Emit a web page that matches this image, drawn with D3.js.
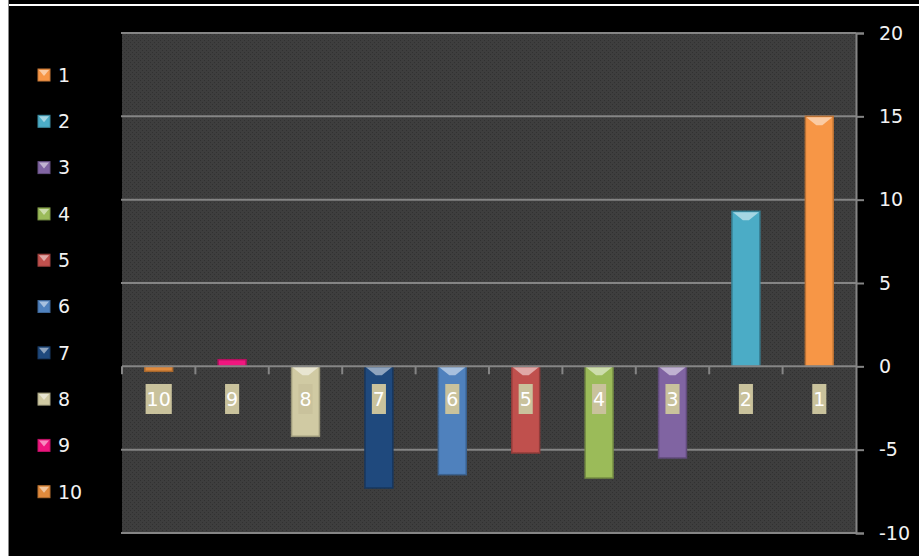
<!DOCTYPE html>
<html>
<head>
<meta charset="utf-8">
<script src="https://cdn.jsdelivr.net/npm/d3@7"></script>
<style>
  html, body { margin: 0; padding: 0; background: #000; }
  svg { display: block; }
  text { font-family: "DejaVu Sans", "Noto Sans", sans-serif; }
</style>
</head>
<body>
<div id="chart"></div>
<script>
const categories = ["1", "2", "3", "4", "5", "6", "7", "8", "9", "10"];
const values = [15, 9.3, -5.5, -6.7, -5.2, -6.5, -7.3, -4.2, 0.4, -0.3];
const colors = ["#f79646", "#4bacc6", "#8064a2", "#9bbb59", "#c0504d",
                "#4f81bd", "#1f497d", "#d0caa3", "#f0167f", "#e08a3c"];
const yTicks = [-10, -5, 0, 5, 10, 15, 20];

const width = 919, height = 556;
const plot = {left: 122, right: 856, top: 33, bottom: 533};

const svg = d3.select("#chart").append("svg")
    .attr("width", width)
    .attr("height", height);

const defs = svg.append("defs");

// dotted texture of the plot area
const pat = defs.append("pattern")
    .attr("id", "tex")
    .attr("width", 4).attr("height", 4)
    .attr("patternUnits", "userSpaceOnUse");
pat.append("rect").attr("width", 4).attr("height", 4).attr("fill", "#3e3e3e");
pat.append("rect").attr("x", 0).attr("y", 0).attr("width", 1).attr("height", 1).attr("fill", "#313131");
pat.append("rect").attr("x", 2).attr("y", 2).attr("width", 1).attr("height", 1).attr("fill", "#313131");

// frame
svg.append("rect").attr("width", width).attr("height", height).attr("fill", "#000");
svg.append("rect").attr("x", 0).attr("y", 0).attr("width", 8).attr("height", height).attr("fill", "#fff");
svg.append("rect").attr("x", 8).attr("y", 0).attr("width", 1).attr("height", height).attr("fill", "#888");
svg.append("rect").attr("x", 9).attr("y", 4).attr("width", width - 9).attr("height", 2).attr("fill", "#fff");

const x = d3.scaleBand()
    .domain(categories.slice().reverse())
    .range([plot.left, plot.right])
    .paddingInner(0.62)
    .paddingOuter(0.31);

const y = d3.scaleLinear()
    .domain([-10, 20])
    .range([plot.bottom, plot.top]);

// plot background
svg.append("rect")
    .attr("x", plot.left).attr("y", plot.top)
    .attr("width", plot.right - plot.left).attr("height", plot.bottom - plot.top)
    .attr("fill", "url(#tex)");

// gridlines
svg.append("g")
  .selectAll("line")
  .data(yTicks.filter(d => d !== 0))
  .join("line")
    .attr("x1", plot.left - 1).attr("x2", plot.right)
    .attr("y1", d => y(d)).attr("y2", d => y(d))
    .attr("stroke", "#858585")
    .attr("stroke-width", 2);

// right value axis
const yAxis = d3.axisRight(y)
    .tickValues(yTicks)
    .tickFormat(d => String(d))
    .tickSize(8)
    .tickPadding(15);

const ga = svg.append("g")
    .attr("transform", `translate(${plot.right},0)`)
    .call(yAxis);
ga.select(".domain").attr("stroke", "#858585").attr("stroke-width", 2);
ga.selectAll(".tick line").attr("stroke", "#858585").attr("stroke-width", 2);
ga.selectAll(".tick text")
    .attr("fill", "#f2f2f2")
    .attr("font-size", 19)
    .style("font-family", "'DejaVu Sans', sans-serif");

// bars
const mix = (c, k) => d3.interpolateRgb(c, k > 0 ? "#fff" : "#000")(Math.abs(k));
const bw = x.bandwidth();

const bars = svg.append("g")
  .selectAll("g")
  .data(categories.map((c, i) => ({cat: c, v: values[i], color: colors[i]})))
  .join("g")
    .attr("transform", d => `translate(${x(d.cat)},${y(Math.max(0, d.v))})`);

bars.append("rect")
    .attr("width", bw)
    .attr("height", d => Math.max(2, Math.abs(y(d.v) - y(0))))
    .attr("fill", d => d.color)
    .attr("stroke", d => mix(d.color, -0.25))
    .attr("stroke-width", 1.5);

// bevel highlight at the top of each bar
bars.filter(d => Math.abs(y(d.v) - y(0)) > 8)
  .append("path")
    .attr("d", `M1,1 L${bw - 1},1 L${bw / 2 + 3},9 L${bw / 2 - 3},9 Z`)
    .attr("fill", d => mix(d.color, 0.5));

// category axis on the zero line
const zero = svg.append("g");
zero.append("line")
    .attr("x1", plot.left).attr("x2", plot.right)
    .attr("y1", y(0)).attr("y2", y(0))
    .attr("stroke", "#858585").attr("stroke-width", 2);
zero.selectAll("line.tick")
  .data(d3.range(categories.length))
  .join("line")
    .attr("class", "tick")
    .attr("x1", i => x(x.domain()[i]) - x.step() * x.paddingInner() / 2)
    .attr("x2", i => x(x.domain()[i]) - x.step() * x.paddingInner() / 2)
    .attr("y1", y(0)).attr("y2", y(0) + 8)
    .attr("stroke", "#858585").attr("stroke-width", 2);

// category labels with beige boxes
const labs = svg.append("g")
  .selectAll("g")
  .data(categories)
  .join("g")
    .attr("transform", d => `translate(${x(d) + bw / 2},399)`);
labs.append("text")
    .attr("text-anchor", "middle")
    .attr("dy", "0.36em")
    .attr("fill", "#fff")
    .attr("font-size", 19)
    .text(d => d)
    .each(function () {
      const b = this.getBBox();
      d3.select(this.parentNode).insert("rect", "text")
          .attr("x", b.x - 1).attr("y", -15)
          .attr("width", b.width + 2).attr("height", 30)
          .attr("fill", "#c9c29c");
    });

// legend
const legend = svg.append("g")
  .selectAll("g")
  .data(categories)
  .join("g")
    .attr("transform", (d, i) => `translate(38,${75 + i * 46.3})`);
legend.append("rect")
    .attr("x", 0).attr("y", -6)
    .attr("width", 12).attr("height", 12)
    .attr("fill", (d, i) => colors[i])
    .attr("stroke", (d, i) => mix(colors[i], -0.2));
legend.append("path")
    .attr("d", "M1,-5 L11,-5 L6,1 Z")
    .attr("fill", (d, i) => mix(colors[i], 0.5));
legend.append("text")
    .attr("x", 20)
    .attr("dy", "0.36em")
    .attr("fill", "#f2f2f2")
    .attr("font-size", 19)
    .text(d => d);
</script>
</body>
</html>
